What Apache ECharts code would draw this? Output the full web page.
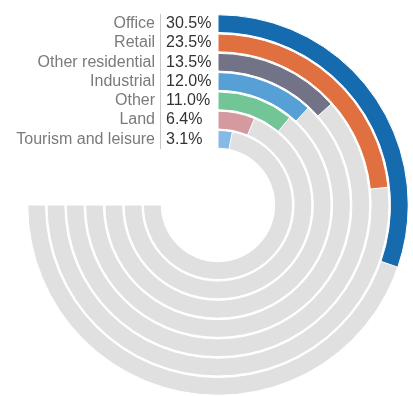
<!DOCTYPE html>
<html>
<head>
<meta charset="utf-8">
<script src="https://cdn.jsdelivr.net/npm/echarts@6/dist/echarts.min.js"></script>
<style>
  html, body { margin: 0; padding: 0; background: #fff; }
  #chart { width: 413px; height: 396px; }
</style>
</head>
<body>
<div id="chart"></div>
<script>
// Sectors, outermost ring first
var categories = ['Office', 'Retail', 'Other residential', 'Industrial', 'Other', 'Land', 'Tourism and leisure'];
var shares = [30.5, 23.5, 13.5, 12.0, 11.0, 6.4, 3.1];
var colors = ['#156bae', '#e07040', '#737387', '#56a0d6', '#72c695', '#d59aa0', '#86b9e6'];

// value that fills the 270 degree grey track
var trackMax = 75.5;

var chart = echarts.init(document.getElementById('chart'));

var font = '"Liberation Sans", Arial, sans-serif';

var option = {
  animation: false,
  polar: {
    center: [218, 205],
    radius: [56, 191]
  },
  angleAxis: {
    type: 'value',
    min: 0,
    max: trackMax * 4 / 3,
    startAngle: 90,
    clockwise: true,
    show: false
  },
  radiusAxis: {
    type: 'category',
    data: categories,
    inverse: true,
    axisLine: { show: false },
    axisTick: { show: false },
    splitLine: { show: false },
    axisLabel: {
      interval: 0,
      hideOverlap: false,
      margin: 6,
      fontFamily: font,
      fontSize: 16,
      // name | value, the value column stays left aligned
      formatter: function (name, idx) {
        return '{n|' + name + '}{s|}{v|' + shares[idx].toFixed(1) + '%}';
      },
      rich: {
        n: { fontSize: 16, color: '#7a7a7a', align: 'left', padding: [0, 5, 0, 0], fontFamily: font },
        s: { width: 1, height: 20, align: 'left', backgroundColor: '#c8c8c8' },
        v: { fontSize: 16, color: '#333', width: 46, align: 'left', padding: [0, 0, 0, 5], fontFamily: font }
      }
    }
  },
  series: [
    {
      type: 'bar',
      coordinateSystem: 'polar',
      barCategoryGap: '8%',
      barGap: '-100%',
      silent: true,
      z: 1,
      itemStyle: { color: '#e0e0e0', borderColor: '#fff', borderWidth: 1 },
      data: categories.map(function () { return trackMax; })
    },
    {
      type: 'bar',
      coordinateSystem: 'polar',
      barCategoryGap: '8%',
      barGap: '-100%',
      z: 2,
      itemStyle: { borderColor: '#fff', borderWidth: 1 },
      data: shares.map(function (v, i) {
        return { value: v, itemStyle: { color: colors[i] } };
      })
    }
  ]
};

chart.setOption(option);
</script>
</body>
</html>
